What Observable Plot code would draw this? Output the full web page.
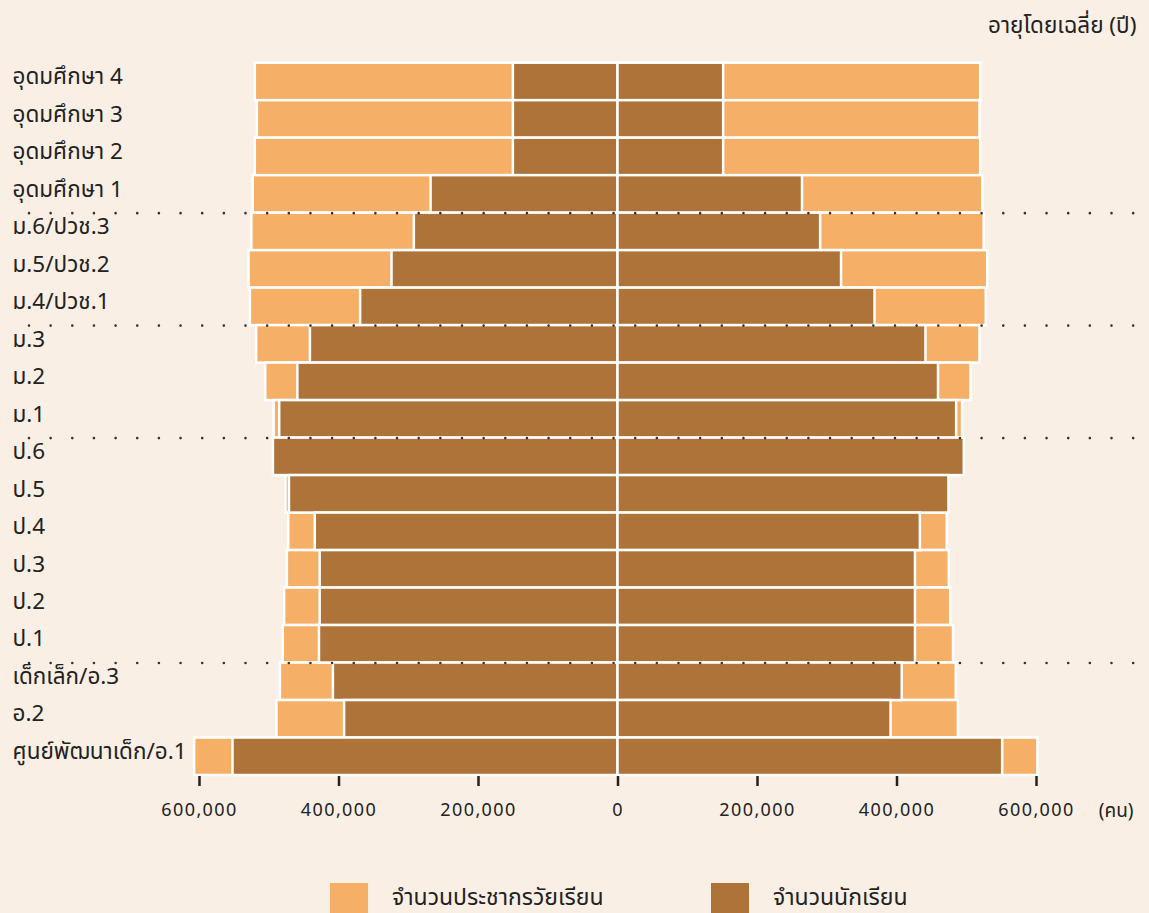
<!DOCTYPE html>
<html>
<head>
<meta charset="utf-8">
<script src="https://cdn.jsdelivr.net/npm/d3@7"></script>
<script src="https://cdn.jsdelivr.net/npm/@observablehq/plot@0.6"></script>
<style>
  body { margin: 0; background: #F9EFE5; font-family: "Noto Sans Thai", "Noto Sans", sans-serif; color: #222; }
  #chart svg { display: block; }
  #chart svg g[aria-label="x-axis tick label"] text { letter-spacing: 1.4px; }
  #legend { position: relative; height: 30px; margin-top: 8px; }
  .item { position: absolute; top: 0; height: 30px; display: flex; align-items: center; font-size: 23px; line-height: 30px; }
  .sw { width: 38px; height: 30px; margin-right: 24px; }
</style>
</head>
<body>
<div id="chart"></div>
<div id="legend"></div>
<script>
const levels = ["อุดมศึกษา 4","อุดมศึกษา 3","อุดมศึกษา 2","อุดมศึกษา 1","ม.6/ปวช.3","ม.5/ปวช.2","ม.4/ปวช.1","ม.3","ม.2","ม.1","ป.6","ป.5","ป.4","ป.3","ป.2","ป.1","เด็กเล็ก/อ.3","อ.2","ศูนย์พัฒนาเด็ก/อ.1"];
const ages = ["21","20","19","18","17","16","15","14","13","12","11","10","9","8","7","6","5","4","2-3"];
const leftPop =      [520000,517000,520000,523000,525000,529000,527000,518000,505000,493000,488000,476000,472000,474000,478000,480000,484000,489000,607000];
const leftStudents = [150000,150000,150000,268000,292000,324000,369000,441000,459000,485000,494000,471000,434000,427000,427000,428000,408000,392000,552000];
const rightPop =      [520000,519000,520000,523000,525000,530000,528000,519000,506000,494000,490000,470000,472000,475000,477000,481000,485000,488000,602000];
const rightStudents = [151500,151500,151500,264500,290500,320500,368500,441500,459500,485500,496500,474500,433500,426500,426500,426500,407500,391500,551500];
const separatorsBefore = ["ม.6/ปวช.3","ม.3","ป.6","เด็กเล็ก/อ.3"];
const tickValues = [-600000,-400000,-200000,0,200000,400000,600000];
const seriesNames = ["จำนวนประชากรวัยเรียน","จำนวนนักเรียน"];
const headerText = "อายุโดยเฉลี่ย (ปี)";
const unitText = "(คน)";

const LIGHT = "#F5AF67", DARK = "#AD7338";

const rows = levels.map((l, i) => ({
  level: l, age: ages[i],
  lp: -leftPop[i], ls: -leftStudents[i],
  rp: rightPop[i], rs: rightStudents[i]
}));

const chart = Plot.plot({
  width: 1149, height: 875,
  marginLeft: 29, marginRight: 13, marginTop: 0, marginBottom: 99,
  style: { background: "transparent", fontFamily: '"Noto Sans Thai","Noto Sans",sans-serif', color: "#222", overflow: "visible" },
  x: { domain: [-600000, 600000], range: [199, 1036] },
  y: { domain: levels, range: [62.7, 775], padding: 0, round: false, axis: null },
  marks: [
    Plot.barX(rows, { y: "level", x1: 0, x2: "lp", fill: LIGHT, stroke: "white", strokeWidth: 2.5 }),
    Plot.barX(rows, { y: "level", x1: 0, x2: "rp", fill: LIGHT, stroke: "white", strokeWidth: 2.5 }),
    Plot.barX(rows, { y: "level", x1: 0, x2: "ls", fill: DARK, stroke: "white", strokeWidth: 2.5 }),
    Plot.barX(rows, { y: "level", x1: 0, x2: "rs", fill: DARK, stroke: "white", strokeWidth: 2.5 }),
    Plot.ruleY(separatorsBefore, { y: d => d, dy: -18.75, stroke: "#333", strokeWidth: 2.6, strokeDasharray: "0 21.65", strokeLinecap: "round" }),
    Plot.text(rows, { y: "level", text: "level", frameAnchor: "left", textAnchor: "start", dx: -17, dy: -5, fontSize: 22.5, fill: "#222" }),
    Plot.text(rows, { y: "age", text: "age", frameAnchor: "right", textAnchor: "middle", dx: -26, dy: -5, fontSize: 22.5, fill: "#222" }),
    Plot.text([headerText], { frameAnchor: "top-right", textAnchor: "end", lineAnchor: "middle", dy: 25, fontSize: 22.5, fill: "#222" }),
    Plot.text([unitText], { frameAnchor: "bottom-right", textAnchor: "end", lineAnchor: "middle", dx: -3, dy: 34, fontSize: 19, fill: "#222" }),
    Plot.axisX({ ticks: tickValues, tickFormat: d => Math.abs(d).toLocaleString("en-US"), tickSize: 10, tickPadding: 17, fontSize: 18, stroke: "#222", strokeWidth: 2.5, label: null })
  ]
});
document.getElementById("chart").appendChild(chart);

const legend = document.getElementById("legend");
[[seriesNames[0], LIGHT, 330], [seriesNames[1], DARK, 711]].forEach(([name, color, left]) => {
  const it = document.createElement("div");
  it.className = "item";
  it.style.left = left + "px";
  const sw = document.createElement("div");
  sw.className = "sw"; sw.style.background = color;
  const t = document.createElement("span");
  t.textContent = name;
  it.appendChild(sw); it.appendChild(t);
  legend.appendChild(it);
});
</script>
</body>
</html>
